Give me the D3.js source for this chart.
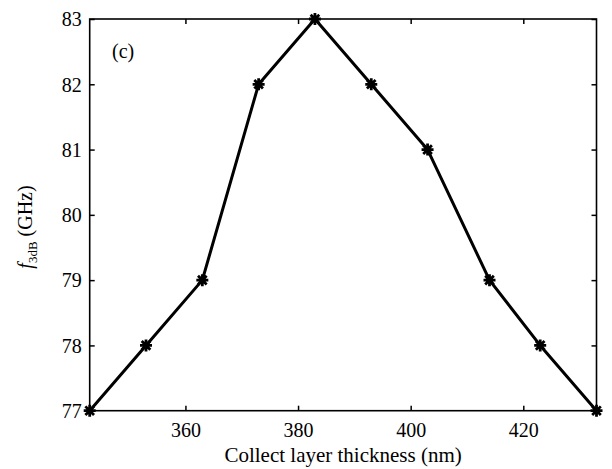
<!DOCTYPE html>
<html><head><meta charset="utf-8">
<script src="https://cdn.jsdelivr.net/npm/d3@7"></script>
<style>
html,body{margin:0;padding:0;background:#fff;}
</style></head>
<body><svg id="c" width="612" height="469"></svg>
<script>
const thickness = [343, 353, 363, 373, 383, 393, 403, 414, 423, 433];
const f3dB = [77, 78, 79, 82, 83, 82, 81, 79, 78, 77];
const xTicks = [360, 380, 400, 420];
const yTicks = [77, 78, 79, 80, 81, 82, 83];

const FONT = "Liberation Serif";
const svg = d3.select("#c");
const m = {l: 89.7, r: 596.5, t: 19, b: 410.7};
const x = d3.scaleLinear().domain([343, 433]).range([m.l, m.r]);
const y = d3.scaleLinear().domain([77, 83]).range([m.b, m.t]);

const g = svg.append("g");
const ax = (gen, tf) => g.append("g").attr("transform", tf).call(gen)
  .attr("font-family", FONT)
  .call(s => s.select(".domain").remove())
  .call(s => s.selectAll("line").attr("stroke", "#000").attr("stroke-width", 1.5));

const axB = ax(d3.axisBottom(x).tickValues(xTicks).tickSize(-5).tickPadding(12).tickFormat(d3.format("d")), `translate(0,${m.b})`);
axB.selectAll("text").style("font-family", FONT).style("font-size", "20px").attr("fill", "#000");
ax(d3.axisTop(x).tickValues(xTicks).tickSize(-5).tickFormat(""), `translate(0,${m.t})`);
const axL = ax(d3.axisLeft(y).tickValues(yTicks).tickSize(-5).tickPadding(8).tickFormat(d3.format("d")), `translate(${m.l},0)`);
axL.selectAll("text").style("font-family", FONT).style("font-size", "20px").attr("fill", "#000").attr("dy", "0.34em");
ax(d3.axisRight(y).tickValues(yTicks).tickSize(-5).tickFormat(""), `translate(${m.r},0)`);

g.append("rect").attr("x", m.l).attr("y", m.t).attr("width", m.r - m.l).attr("height", m.b - m.t)
  .attr("fill", "none").attr("stroke", "#000").attr("stroke-width", 1.6);

const pts = thickness.map((t, i) => [t, f3dB[i]]);
g.append("path").datum(pts)
  .attr("d", d3.line().x(d => x(d[0])).y(d => y(d[1])))
  .attr("fill", "none").attr("stroke", "#000").attr("stroke-width", 3).attr("stroke-linejoin", "round");

const r = 6;
const star = `M${-r},0L${r},0M0,${-r}L0,${r}M${-r*0.72},${-r*0.72}L${r*0.72},${r*0.72}M${-r*0.72},${r*0.72}L${r*0.72},${-r*0.72}`;
g.selectAll(".mk").data(pts).enter().append("path")
  .attr("transform", d => `translate(${x(d[0])},${y(d[1])})`)
  .attr("d", star).attr("stroke", "#000").attr("stroke-width", 2.8).attr("fill", "none");

svg.append("text").attr("x", 112).attr("y", 58).style("font-family", FONT).style("font-size", "20px").text("(c)");

svg.append("text").attr("x", (m.l + m.r) / 2).attr("y", 462).attr("text-anchor", "middle")
  .style("font-family", FONT).style("font-size", "21px").text("Collect layer thickness (nm)");

const yt = svg.append("text").attr("transform", "translate(32,227) rotate(-90)").attr("text-anchor", "middle")
  .style("font-family", FONT).style("font-size", "20px");
yt.append("tspan").attr("font-style", "italic").text("f");
yt.append("tspan").style("font-size", "13px").attr("dy", 5).text("3dB");
yt.append("tspan").attr("dy", -5).text(" (GHz)");
</script></body></html>
